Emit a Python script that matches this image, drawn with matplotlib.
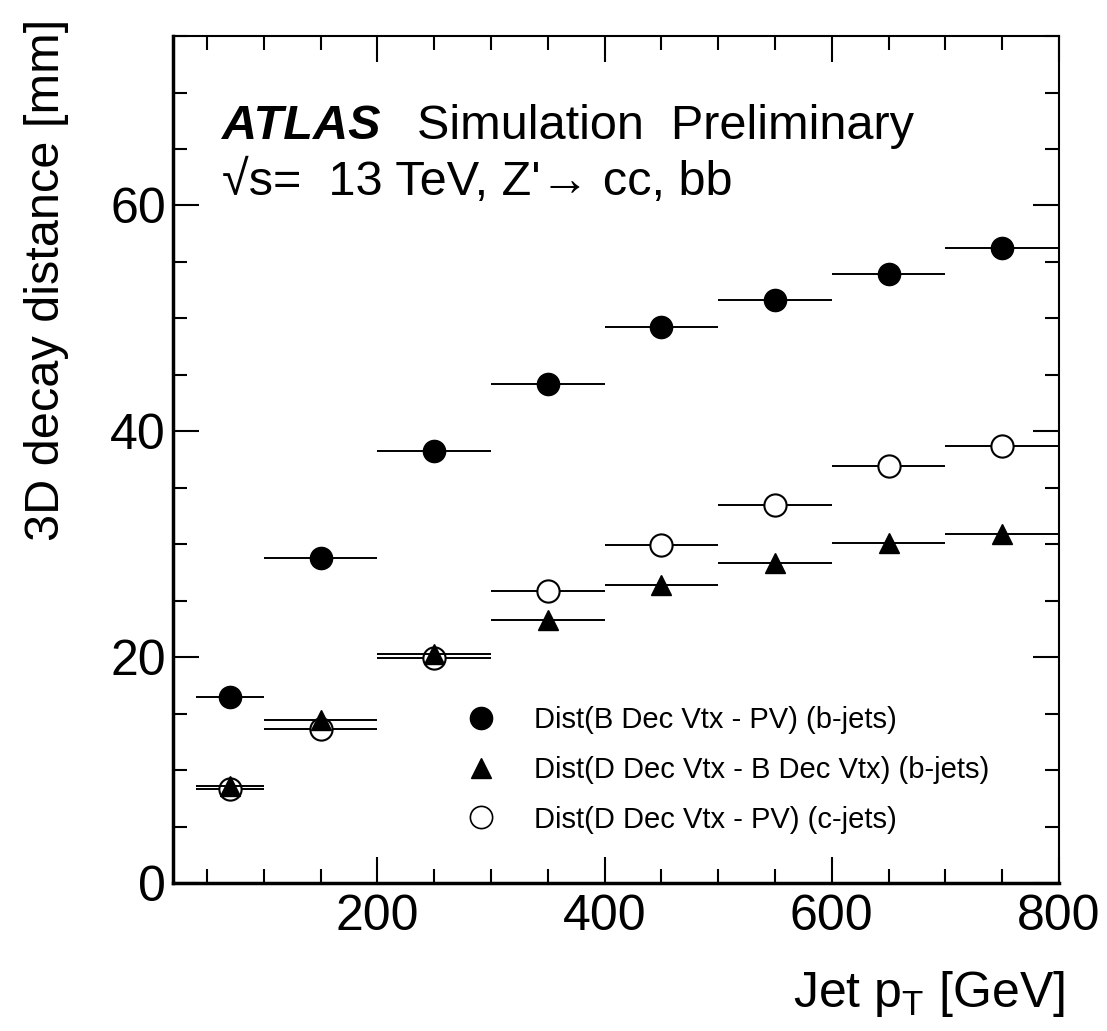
import matplotlib
matplotlib.use("Agg")
import matplotlib.pyplot as plt
from matplotlib.lines import Line2D
from matplotlib.ticker import MultipleLocator
import numpy as np

plt.rcParams["font.family"] = ["Liberation Sans", "DejaVu Sans"]
plt.rcParams["mathtext.fontset"] = "custom"
plt.rcParams["mathtext.rm"] = "Liberation Sans"
plt.rcParams["mathtext.it"] = "Liberation Sans:italic"

# bin edges in jet pT [GeV]
bin_edges = [40, 100, 200, 300, 400, 500, 600, 700, 800]
# 3D decay distance [mm]
dist_b_pv = [16.5, 28.8, 38.3, 44.2, 49.2, 51.6, 53.9, 56.2]
dist_d_b = [8.6, 14.4, 20.3, 23.3, 26.4, 28.3, 30.1, 30.9]
dist_d_pv_c = [8.3, 13.6, 19.9, 25.9, 29.9, 33.5, 36.9, 38.7]

labels = [
    "Dist(B Dec Vtx - PV) (b-jets)",
    "Dist(D Dec Vtx - B Dec Vtx) (b-jets)",
    "Dist(D Dec Vtx - PV) (c-jets)",
]

edges = np.array(bin_edges, dtype=float)
xc = 0.5 * (edges[:-1] + edges[1:])
xerr = [xc - edges[:-1], edges[1:] - xc]

fig = plt.figure(figsize=(11.07, 10.31), dpi=100)
ax = fig.add_axes([0.1563, 0.1435, 0.8003, 0.8215])

common = dict(xerr=xerr, linestyle="none", ecolor="black", elinewidth=1.4,
              capsize=0, markeredgecolor="black")
ax.errorbar(xc, dist_b_pv, fmt="o", markersize=16, markerfacecolor="black",
            zorder=3, **common)
ax.errorbar(xc, dist_d_pv_c, fmt="o", markersize=16, markerfacecolor="white",
            markeredgewidth=1.5, zorder=4, **common)
ax.errorbar(xc, dist_d_b, fmt="^", markersize=15, markerfacecolor="black",
            zorder=5, **common)

ax.set_xlim(20, 800)
ax.set_ylim(0, 75)
ax.set_xticks([200, 400, 600, 800])
ax.set_yticks([0, 20, 40, 60])
ax.xaxis.set_minor_locator(MultipleLocator(50))
ax.yaxis.set_minor_locator(MultipleLocator(5))
ax.tick_params(which="both", direction="in", top=True, right=True,
               labelsize=36, width=1.5)
ax.tick_params(axis="x", which="major", length=19, pad=8)
ax.tick_params(axis="y", which="major", length=19, pad=5)
ax.tick_params(which="minor", length=10)
for sp in ax.spines.values():
    sp.set_linewidth(1.5)
ax.spines["bottom"].set_linewidth(2.5)
ax.spines["left"].set_linewidth(2.5)

fig.text(0.962, 0.023, "Jet p$_\\mathregular{T}$ [GeV]", fontsize=36,
         ha="right", va="baseline")
fig.text(0.042, 0.982, "3D decay distance [mm]", fontsize=35, rotation=90,
         ha="center", va="top")

ax.text(0.055, 0.878, "ATLAS", transform=ax.transAxes, fontsize=35,
        fontweight="bold", fontstyle="italic", va="baseline")
ax.text(0.275, 0.878, "Simulation  Preliminary", transform=ax.transAxes,
        fontsize=35, va="baseline")
ax.text(0.055, 0.812, "√s=  13 TeV, Z'→ cc, bb", transform=ax.transAxes,
        fontsize=35, va="baseline")

handles = [
    Line2D([], [], marker="o", color="black", linestyle="none", markersize=16),
    Line2D([], [], marker="^", color="black", linestyle="none", markersize=15),
    Line2D([], [], marker="o", markerfacecolor="white", markeredgecolor="black",
           markeredgewidth=1.2, linestyle="none", markersize=16),
]
ax.legend(handles, labels, loc="upper left", bbox_to_anchor=(0.318, 0.223),
          frameon=False, fontsize=21, handlelength=1.0, handletextpad=1.3,
          labelspacing=0.75, borderaxespad=0)

fig.savefig("out.png", dpi=100)
